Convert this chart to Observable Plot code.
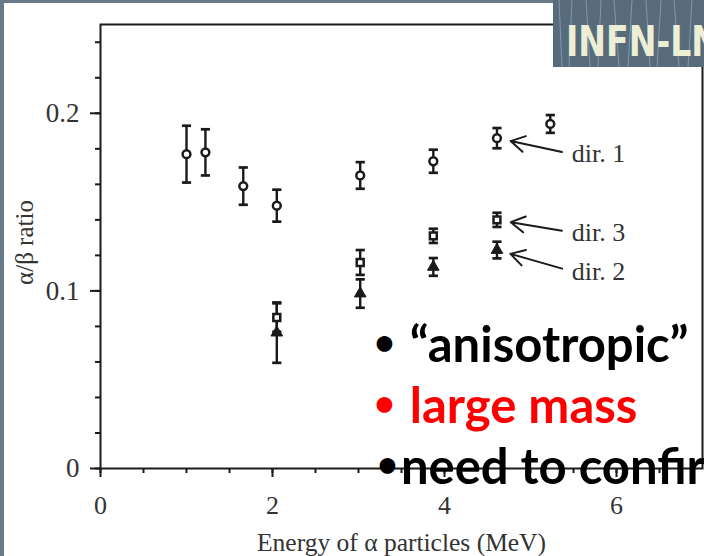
<!DOCTYPE html>
<html>
<head>
<meta charset="utf-8">
<script src="https://cdn.jsdelivr.net/npm/d3@7"></script>
<script src="https://cdn.jsdelivr.net/npm/@observablehq/plot@0.6"></script>
<style>
  html, body { margin: 0; padding: 0; overflow: hidden; }
  body { width: 704px; height: 556px; background: #687a88; position: relative; }
  #chart { position: absolute; left: 4px; top: 3px; width: 700px; height: 553px; background: #fff; }
  #chart svg { display: block; }
  #logo { position: absolute; left: 553px; top: 0; width: 151px; height: 67px; }
  #notes { position: absolute; left: 374px; top: 313px; font: bold 49px Lato, "Open Sans", sans-serif;
           line-height: 61px; white-space: nowrap; color: #000; }
  #notes > div { height: 61px; }
  #notes .red { color: #ff0000; }
  #notes .b { font-size: 36px; line-height: 0; position: relative; top: -7px; margin-right: 3px; }
  #notes .tight { margin-right: 3px; margin-left: 3px; }
</style>
</head>
<body>
<div id="chart"></div>
<svg id="logo" width="151" height="67" viewBox="0 0 151 67">
  <rect width="151" height="67" fill="#586b7b"></rect>
  <g stroke="#8eaec4" stroke-width="1" opacity="0.7">
    <line x1="6" y1="0" x2="9" y2="67"></line>
    <line x1="19" y1="0" x2="16" y2="67"></line>
    <line x1="33" y1="0" x2="37" y2="67"></line>
    <line x1="48" y1="0" x2="45" y2="67"></line>
    <line x1="61" y1="0" x2="66" y2="67"></line>
    <line x1="79" y1="0" x2="75" y2="67"></line>
    <line x1="93" y1="0" x2="97" y2="67"></line>
    <line x1="108" y1="0" x2="104" y2="67"></line>
    <line x1="121" y1="0" x2="126" y2="67"></line>
    <line x1="139" y1="0" x2="135" y2="67"></line>
  </g>
  <text x="13" y="56" textLength="153" lengthAdjust="spacingAndGlyphs"
        font-family="'Liberation Sans Narrow', 'DejaVu Sans Condensed', 'Liberation Sans', sans-serif"
        font-weight="bold" font-size="43" fill="#eceed6">INFN-LN</text>
</svg>
<div id="notes">
  <div><span class="b">•</span> “anisotropic”</div>
  <div class="red"><span class="b">•</span> large mass</div>
  <div><span class="b tight">•</span>need to confirm</div>
</div>
<script>
// α/β light-yield ratio versus α energy, three crystal directions
const energyDir1 = [1.0, 1.22, 1.66, 2.05, 3.02, 3.87, 4.61, 5.23];
const ratioDir1  = [0.177, 0.178, 0.159, 0.148, 0.165, 0.173, 0.186, 0.194];
const errDir1    = [0.016, 0.013, 0.0105, 0.009, 0.0075, 0.0065, 0.0057, 0.005];

const energyDir3 = [2.05, 3.02, 3.87, 4.61];
const ratioDir3  = [0.085, 0.116, 0.131, 0.140];
const errDir3    = [0.008, 0.007, 0.004, 0.004];

const energyDir2 = [2.05, 3.02, 3.87, 4.61];
const ratioDir2  = [0.0765, 0.0985, 0.1135, 0.123];
const errDir2    = [0.017, 0.008, 0.005, 0.0047];

const xTickLabels = [0, 2, 4, 6];
const yTickLabels = [0, 0.1, 0.2];

// callouts: label text, the series and energy it points at, label anchor in data units
const callouts = [
  {label: "dir. 1", series: "dir1", at: 4.61, x: 5.48, y: 0.177},
  {label: "dir. 3", series: "dir3", at: 4.61, x: 5.48, y: 0.133},
  {label: "dir. 2", series: "dir2", at: 4.61, x: 5.48, y: 0.111}
];

const toRows = (series, xs, ys, es) => xs.map((x, i) => ({series, x, y: ys[i], e: es[i]}));
const dir1 = toRows("dir1", energyDir1, ratioDir1, errDir1);
const dir3 = toRows("dir3", energyDir3, ratioDir3, errDir3);
const dir2 = toRows("dir2", energyDir2, ratioDir2, errDir2);
const allRows = [...dir2, ...dir3, ...dir1];

const seriesRows = {dir1, dir2, dir3};
const target = (c) => seriesRows[c.series].find(d => d.x === c.at);

const xMinor = d3.range(14).map(i => i * 0.5);
const yMinor = d3.range(13).map(i => +(i * 0.02).toFixed(2));

// horizontal cap symbol for error bars
const cap = {
  draw(ctx, size) {
    const w = Math.sqrt(size / Math.PI);
    ctx.moveTo(-w, 0);
    ctx.lineTo(w, 0);
  }
};

const ink = "#1a1a1a";
const textInk = "#333";

const chart = Plot.plot({
  width: 700,
  height: 553,
  marginLeft: 96,
  marginTop: 21,
  marginRight: 2,
  marginBottom: 88,
  x: {domain: [0, 7]},
  y: {domain: [0, 0.25]},
  style: {fontFamily: "'Liberation Serif', 'Times New Roman', serif", fontSize: "26px", background: "white", color: ink},
  marks: [
    Plot.frame({stroke: ink, strokeWidth: 2}),
    // minor and major ticks
    Plot.axisY({ticks: yMinor, tickSize: 5, tickFormat: () => "", label: null, stroke: ink, strokeWidth: 2}),
    Plot.axisY({ticks: yTickLabels, tickSize: 10, tickPadding: 11, tickFormat: d => String(d), label: null,
                stroke: ink, strokeWidth: 2, fill: textInk, fontSize: 27}),
    Plot.axisX({ticks: xMinor, tickSize: 5, tickFormat: () => "", label: null, stroke: ink, strokeWidth: 2}),
    Plot.axisX({ticks: xTickLabels, tickSize: 9, tickPadding: 18, tickFormat: d => String(d), label: null,
                stroke: ink, strokeWidth: 2, fill: textInk}),
    // axis titles
    Plot.text(["Energy of α particles (MeV)"], {frameAnchor: "bottom", textAnchor: "middle", lineAnchor: "bottom",
                                                 dy: 82, fontSize: 25.5, fill: textInk}),
    Plot.text(["α/β ratio"], {frameAnchor: "left", textAnchor: "middle", dx: -76, dy: -4, rotate: -90,
                              fontSize: 25, fill: textInk}),
    // error bars
    Plot.ruleX(allRows, {x: "x", y1: d => d.y - d.e, y2: d => d.y + d.e, stroke: ink, strokeWidth: 2.4}),
    Plot.dot(allRows, {x: "x", y: d => d.y + d.e, symbol: cap, r: 4.6, stroke: ink, strokeWidth: 2.7}),
    Plot.dot(allRows, {x: "x", y: d => d.y - d.e, symbol: cap, r: 4.6, stroke: ink, strokeWidth: 2.7}),
    // markers
    Plot.dot(dir2, {x: "x", y: "y", symbol: "triangle", r: 4.3, fill: ink, stroke: ink, strokeWidth: 1}),
    Plot.dot(dir3, {x: "x", y: "y", symbol: "square", r: 3.9, fill: "white", stroke: ink, strokeWidth: 2.5}),
    Plot.dot(dir1, {x: "x", y: "y", symbol: "circle", r: 3.9, fill: "white", stroke: ink, strokeWidth: 2.5}),
    // callouts
    Plot.arrow(callouts, {
      x1: "x", y1: "y",
      x2: c => target(c).x, y2: c => target(c).y,
      insetStart: 10, insetEnd: 14, headLength: 12, stroke: ink, strokeWidth: 2
    }),
    Plot.text(callouts, {x: "x", y: "y", text: "label", textAnchor: "start", fill: textInk})
  ]
});

document.getElementById("chart").appendChild(chart);
</script>
</body>
</html>
